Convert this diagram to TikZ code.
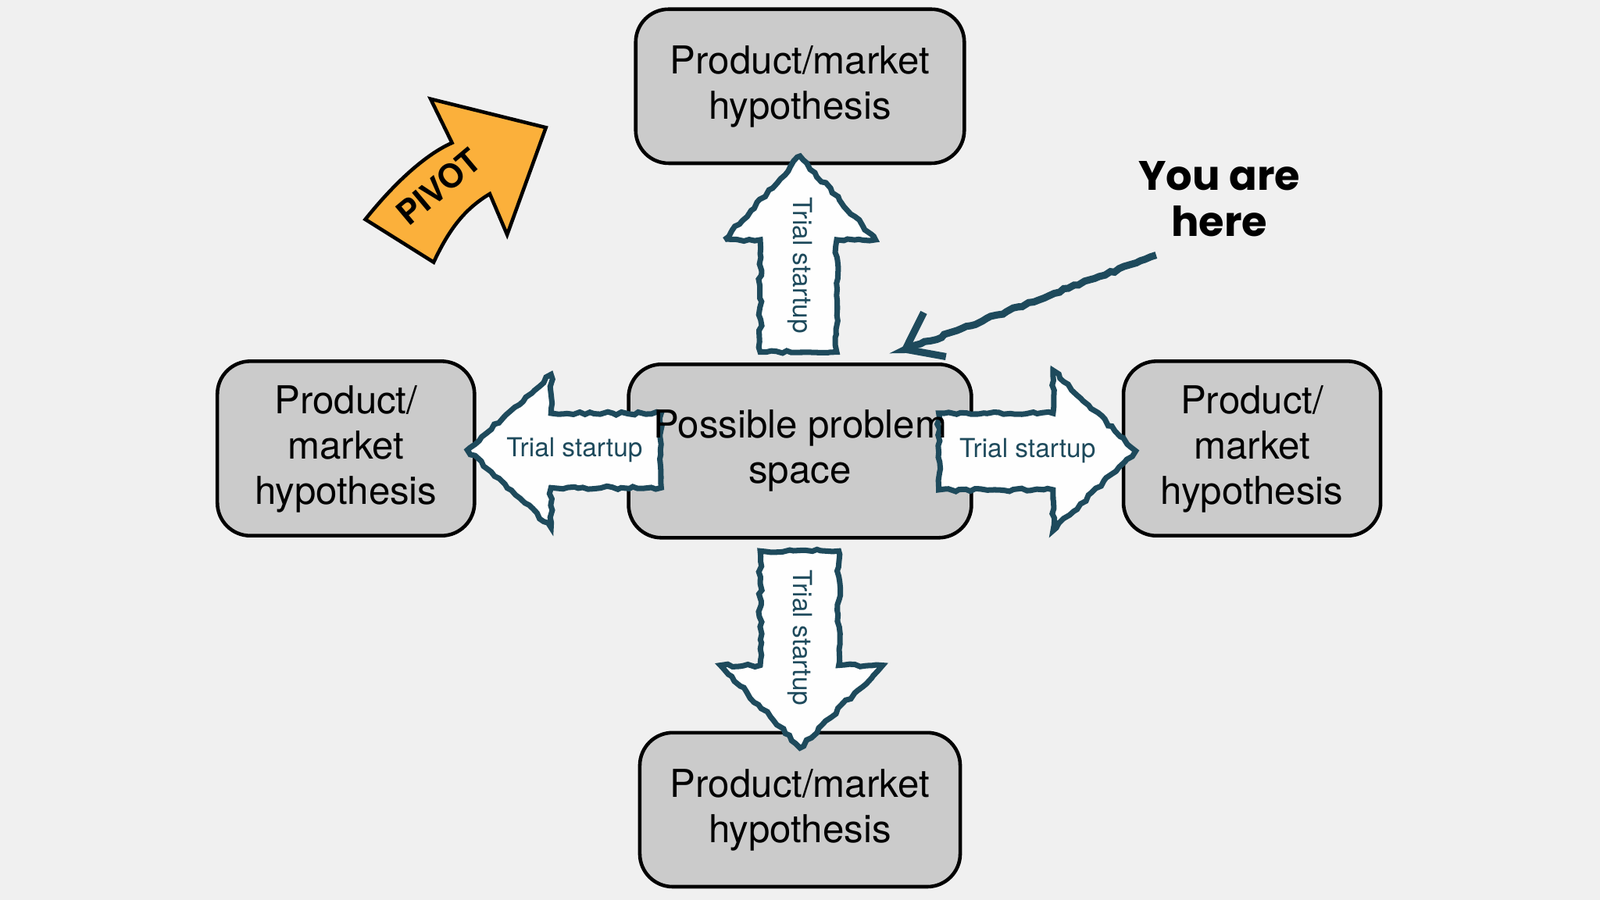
\documentclass[tikz,border=0pt]{standalone}
\usepackage{fontspec}
\setmainfont{TeX Gyre Heros}
\newfontfamily\hand{Poppins}
\usetikzlibrary{decorations.pathmorphing,arrows.meta}
\definecolor{bg}{HTML}{F0F0F0}
\definecolor{boxc}{HTML}{CBCBCB}
\definecolor{teal}{HTML}{1E4A5C}
\definecolor{orng}{HTML}{FBB03B}
\begin{document}
\begin{tikzpicture}[x=0.01306cm,y=-0.01306cm,
 box/.style={draw=black,line width=1.3pt,fill=boxc,rounded corners=12pt},
 btxt/.style={align=center,font=\fontsize{14}{16.5}\selectfont},
 blk/.style={draw=teal,line width=2pt,fill=white!92!bg,decorate,decoration={random steps,segment length=2pt,amplitude=0.6pt}},
 ttxt/.style={text=teal,font=\fontsize{9.5}{11}\selectfont}]
\fill[bg] (0,0) rectangle (1568,882);
\draw[box] (623,9) rectangle (945,160);
\node[btxt] (top) at (784,85) {Product/market\\hypothesis};
\draw[box] (213,354) rectangle (465,525);
\node[btxt] (left) at (339,440) {Product/\\market\\hypothesis};
\draw[box] (1101,354) rectangle (1353,525);
\node[btxt] (right) at (1227,440) {Product/\\market\\hypothesis};
\draw[box] (627,718) rectangle (941,869);
\node[btxt] (bot) at (784,794) {Product/market\\hypothesis};
\draw[box] (616,357) rectangle (952,527);
% arrows
\draw[blk] (745,345)--(745,235)--(710,235)--(784,153)--(858,235)--(820,235)--(820,345)--cycle;
\draw[blk] (745,540)--(745,652)--(706,652)--(784,733)--(865,652)--(822,652)--(822,540)--cycle;
\draw[blk] (648,405)--(540,405)--(540,367)--(458,441)--(540,517)--(540,478)--(648,478)--cycle;
\draw[blk] (920,405)--(1032,405)--(1032,363)--(1113,442)--(1032,520)--(1032,480)--(920,480)--cycle;
\node[btxt] (c) at (784,442) {Possible problem\\space};
\node[ttxt,rotate=-90] (tu) at (784,260) {Trial startup};
\node[ttxt,rotate=-90] (td) at (784,625) {Trial startup};
\node[ttxt] (tl) at (563,441) {Trial startup};
\node[ttxt] (tr) at (1007,442) {Trial startup};
% you are here
\node[font=\hand\bfseries\fontsize{15}{17}\selectfont,align=center] (here) at (1195,195) {You are\\here};
\coordinate (hs) at (1133,250);
\coordinate (he) at (882,345);
\draw[teal,line width=2.6pt,decorate,decoration={random steps,segment length=2pt,amplitude=0.5pt},-{Straight Barb[length=12pt,width=18pt]}] (hs)--(he);
% pivot
\draw[fill=orng,line width=1.3pt,line join=miter] (358,215) .. controls (390,175) and (420,150) .. (443,140) -- (422,97) -- (535,125) -- (497,230) -- (480,190) .. controls (455,205) and (440,225) .. (425,257) -- cycle;
\node[rotate=40,font=\bfseries\fontsize{12}{14}\selectfont] (pv) at (430,183) {PIVOT};
\end{tikzpicture}
\end{document}
